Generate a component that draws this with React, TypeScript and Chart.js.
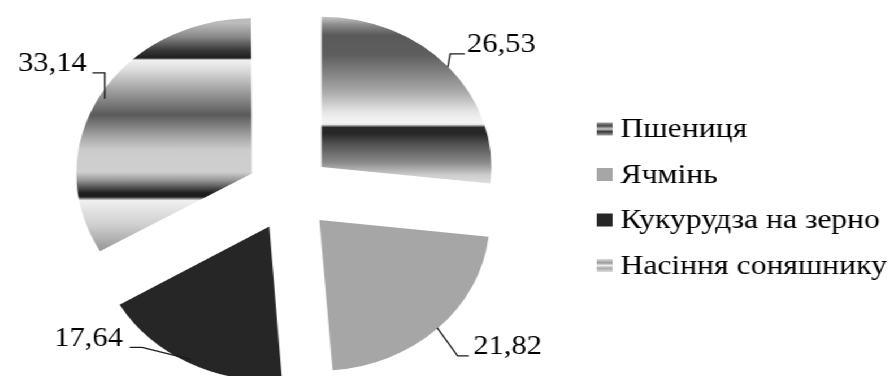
import React, { useEffect, useRef } from 'react';
import { Chart, registerables } from 'chart.js';

Chart.register(...registerables);

// ---- data ----
const categories = ['Пшениця', 'Ячмінь', 'Кукурудза на зерно', 'Насіння соняшнику'];
const shares = [26.53, 21.82, 17.64, 33.14];

// ---- styles ----
const CANVAS_W = 791;
const CANVAS_H = 376;
const STRETCH = 894 / CANVAS_W;
const RADIUS = 150;
const OFFSET = 153; // chart.js arc offset (translation = offset / 4)
const FONT = "'Times New Roman', 'Liberation Serif', serif";
const TEXT_COLOR = '#000000';

type Stops = [number, string][];
const wheatStops: Stops = [
  [0, '#c4c4c4'], [0.027, '#8a8a8a'], [0.06, '#5a5a5a'], [0.127, '#5e5e5e'],
  [0.183, '#808080'], [0.25, '#aaaaaa'], [0.317, '#e6e6e6'], [0.35, '#f5f5f5'],
  [0.358, '#eeeeee'], [0.368, '#2a2a2a'], [0.387, '#262626'], [0.427, '#555555'],
  [0.483, '#888888'], [0.527, '#cccccc'], [0.557, '#e0e0e0'], [1, '#e0e0e0'],
];
const sunflowerStops: Stops = [
  [0, '#bbbbbb'], [0.045, '#888888'], [0.088, '#3a3a3a'], [0.115, '#1e1e1e'],
  [0.122, '#f2f2f2'], [0.155, '#dcdcdc'], [0.232, '#999999'], [0.305, '#5a5a5a'],
  [0.382, '#aaaaaa'], [0.422, '#cccccc'], [0.495, '#cfcfcf'], [0.522, '#999999'],
  [0.565, '#1e1e1e'], [0.578, '#1e1e1e'], [0.59, '#f0f0f0'], [0.672, '#cfcfcf'],
  [0.755, '#999999'], [1, '#999999'],
];
const sliceFills: (string | Stops)[] = [wheatStops, '#a6a6a6', '#262626', sunflowerStops];
const legendBoxFills: (string | Stops)[] = [
  [[0, '#a0a0a0'], [0.25, '#4a4a4a'], [0.5, '#c8c8c8'], [0.7, '#3a3a3a'], [1, '#a0a0a0']],
  '#a6a6a6',
  '#262626',
  [[0, '#dddddd'], [0.3, '#999999'], [0.5, '#eeeeee'], [0.7, '#aaaaaa'], [1, '#dddddd']],
];
// leader: [elbow dx, elbow dy, horizontal run (signed), gap before text]
const leaders: [number, number, number, number][] = [
  [2, -13, 13, 2],
  [18, 28, 10, 4],
  [-43, -12, -11, 6],
  [0, -26, -11, 5],
];

const formatValue = (v: number) => v.toFixed(2).replace('.', ',');

export default function App() {
  const ref = useRef<HTMLCanvasElement>(null);

  useEffect(() => {
    const canvas = ref.current;
    if (!canvas) return;

    // The arc element translates the context by its offset before filling,
    // so the gradient is defined around the un-exploded pie centre.
    const makeFill = (chart: any, i: number) => {
      const spec = sliceFills[i];
      if (typeof spec === 'string') return spec;
      const area = chart.chartArea;
      if (!area) return '#999999';
      const cy = (area.top + area.bottom) / 2;
      const g = chart.ctx.createLinearGradient(0, cy - RADIUS, 0, cy + RADIUS);
      spec.forEach(([p, c]) => g.addColorStop(p, c));
      return g;
    };

    const labelPlugin = {
      id: 'sliceLabels',
      afterDatasetsDraw(chart: any) {
        const ctx = chart.ctx as CanvasRenderingContext2D;
        const arcs = chart.getDatasetMeta(0).data;
        ctx.save();
        ctx.font = `27px ${FONT}`;
        ctx.fillStyle = TEXT_COLOR;
        ctx.strokeStyle = '#1a1a1a';
        ctx.lineWidth = 1.3;
        arcs.forEach((arc: any, i: number) => {
          const { x, y, startAngle, endAngle, outerRadius } = arc.getProps(
            ['x', 'y', 'startAngle', 'endAngle', 'outerRadius'],
            true,
          );
          const mid = (startAngle + endAngle) / 2;
          const r = OFFSET / 4 + outerRadius;
          const ex = x + Math.cos(mid) * r;
          const ey = y + Math.sin(mid) * r;
          const [dx, dy, run, gap] = leaders[i];
          const bx = ex + dx;
          const by = ey + dy;
          const tx = bx + run;
          ctx.beginPath();
          ctx.moveTo(ex, ey);
          ctx.lineTo(bx, by);
          ctx.lineTo(tx, by);
          ctx.stroke();
          ctx.textBaseline = 'alphabetic';
          ctx.textAlign = run >= 0 ? 'left' : 'right';
          ctx.fillText(formatValue(shares[i]), tx + (run >= 0 ? gap : -gap), by - 1.5);
        });
        ctx.restore();
      },
    };

    const legendPlugin = {
      id: 'customLegend',
      afterDraw(chart: any) {
        const ctx = chart.ctx as CanvasRenderingContext2D;
        const labels: string[] = chart.data.labels;
        const boxX = 528;
        const boxW = 14;
        const boxH = 13;
        const textX = 549;
        const firstBaseline = 137;
        const step = 45.5;
        ctx.save();
        ctx.font = `28px ${FONT}`;
        ctx.textAlign = 'left';
        ctx.textBaseline = 'alphabetic';
        labels.forEach((label, i) => {
          const base = firstBaseline + i * step;
          const boxY = base - 8 - boxH / 2;
          const spec = legendBoxFills[i];
          if (typeof spec === 'string') {
            ctx.fillStyle = spec;
          } else {
            const g = ctx.createLinearGradient(0, boxY, 0, boxY + boxH);
            spec.forEach(([p, c]) => g.addColorStop(p, c));
            ctx.fillStyle = g;
          }
          ctx.fillRect(boxX, boxY, boxW, boxH);
          ctx.fillStyle = TEXT_COLOR;
          ctx.fillText(label, textX, base);
        });
        ctx.restore();
      },
    };

    const chart = new Chart(canvas, {
      type: 'pie',
      data: {
        labels: categories,
        datasets: [
          {
            data: shares,
            backgroundColor: (c: any) => makeFill(c.chart, c.dataIndex),
            borderWidth: 0,
            offset: OFFSET,
          } as any,
        ],
      },
      options: {
        animation: false,
        responsive: true,
        maintainAspectRatio: false,
        devicePixelRatio: 1,
        events: [],
        radius: RADIUS,
        layout: { padding: { left: 0, right: 279, top: 9, bottom: 0 } },
        plugins: {
          legend: { display: false },
          tooltip: { enabled: false },
        },
      } as any,
      plugins: [labelPlugin, legendPlugin],
    });
    return () => chart.destroy();
  }, []);

  return (
    <div
      style={{
        position: 'fixed',
        left: 0,
        top: 0,
        width: CANVAS_W,
        height: CANVAS_H,
        transform: `scaleX(${STRETCH})`,
        transformOrigin: '0 0',
        background: '#ffffff',
      }}
    >
      <canvas ref={ref} />
    </div>
  );
}
